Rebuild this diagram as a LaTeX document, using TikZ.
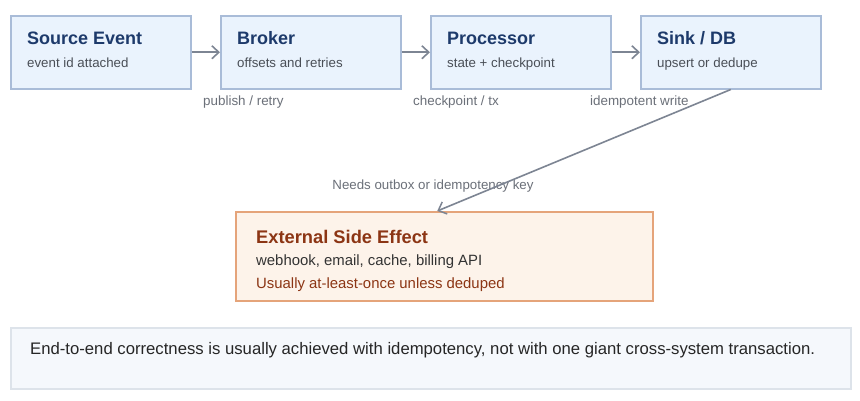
\documentclass[tikz,border=0pt]{standalone}
\usepackage{fontspec}
\setmainfont{Liberation Sans}
\usetikzlibrary{arrows.meta}
\definecolor{boxfill}{HTML}{EAF3FD}
\definecolor{boxline}{HTML}{A9BCD8}
\definecolor{titlecol}{HTML}{1D3A6B}
\definecolor{subcol}{HTML}{4A4F57}
\definecolor{lblcol}{HTML}{6B7079}
\definecolor{arrcol}{HTML}{7D8593}
\definecolor{extfill}{HTML}{FDF3EA}
\definecolor{extline}{HTML}{E5A47A}
\definecolor{extcol}{HTML}{8C3514}
\definecolor{notefill}{HTML}{F5F8FC}
\definecolor{noteline}{HTML}{DDE3EA}
\begin{document}
\begin{tikzpicture}[x=1pt,y=-1pt,
  stagebox/.style={draw=boxline,fill=boxfill,line width=1.5pt,minimum width=180pt,minimum height=73pt,anchor=north west,inner sep=0pt},
  ttl/.style={anchor=base west,inner sep=0pt,text=titlecol,font=\fontsize{18}{21}\selectfont\bfseries},
  sub/.style={anchor=base west,inner sep=0pt,text=subcol,font=\fontsize{13.3}{16}\selectfont},
  lbl/.style={anchor=base west,inner sep=0pt,text=lblcol,font=\fontsize{13.4}{16}\selectfont},
  flow/.style={draw=arrcol,line width=2pt,-{Straight Barb[length=7pt,width=13pt,line width=1.6pt]}},
]
\useasboundingbox (0,0) rectangle (860,400);
\fill[white] (0,0) rectangle (860,400);

\node[stagebox] (src) at (10,15) {};
\node[stagebox] (brk) at (220,15) {};
\node[stagebox] (proc) at (430,15) {};
\node[stagebox] (sink) at (640,15) {};

\node[ttl] (srcT) at (27,44) {Source Event};
\node[sub] (srcS) at (27,67) {event id attached};
\node[ttl] (brkT) at (237,44) {Broker};
\node[sub] (brkS) at (237,67) {offsets and retries};
\node[ttl] (procT) at (447,44) {Processor};
\node[sub] (procS) at (447,67) {state + checkpoint};
\node[ttl] (sinkT) at (657,44) {Sink / DB};
\node[sub] (sinkS) at (657,67) {upsert or dedupe};

\draw[flow] (src) -- (brk);
\draw[flow] (brk) -- (proc);
\draw[flow] (proc) -- (sink);

\node[lbl] (l1) at (203,105) {publish / retry};
\node[lbl] (l2) at (413,105) {checkpoint / tx};
\node[lbl] (l3) at (590,105) {idempotent write};

\node[draw=extline,fill=extfill,line width=1.5pt,minimum width=417pt,minimum height=89pt,anchor=north west,inner sep=0pt] (ext) at (235,211) {};
\node[anchor=base west,inner sep=0pt,text=extcol,font=\fontsize{18.3}{21}\selectfont\bfseries] (extT) at (256,243) {External Side Effect};
\node[anchor=base west,inner sep=0pt,text=black!80,font=\fontsize{14.9}{18}\selectfont] (extS) at (256,265) {webhook, email, cache, billing API};
\node[anchor=base west,inner sep=0pt,text=extcol,font=\fontsize{14.9}{18}\selectfont] (extU) at (256,288) {Usually at-least-once unless deduped};

\node[anchor=base,inner sep=0pt,text=lblcol,font=\fontsize{13.3}{16}\selectfont] (needs) at (433,189) {Needs outbox or idempotency key};
\draw[draw=arrcol,line width=1.6pt,-{Straight Barb[length=7pt,width=13pt,line width=1.5pt]}] (sink.south) -- ([xshift=-7pt]ext.north);

\node[draw=noteline,fill=notefill,line width=1.5pt,minimum width=840pt,minimum height=61pt,anchor=north west,inner sep=0pt] (note) at (10,327) {};
\node[anchor=base west,inner sep=0pt,text=black!85,font=\fontsize{16.7}{20}\selectfont] (noteT) at (30,354) {End-to-end correctness is usually achieved with idempotency, not with one giant cross-system transaction.};
\end{tikzpicture}
\end{document}
